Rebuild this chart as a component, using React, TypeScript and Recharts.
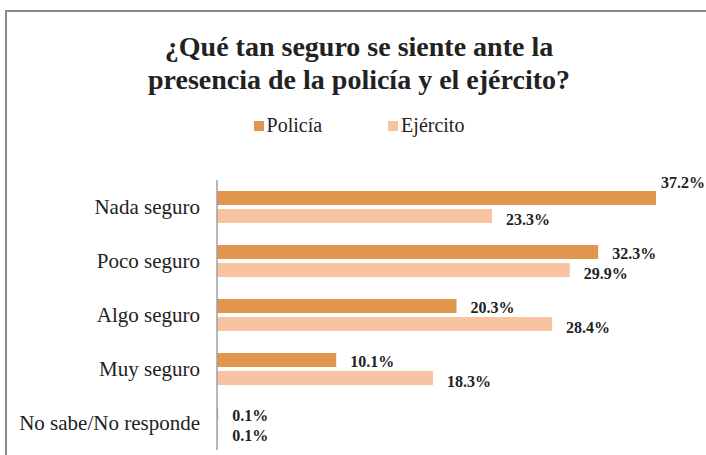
import { BarChart, Bar, XAxis, YAxis, LabelList } from "recharts";

const categories = ["Nada seguro", "Poco seguro", "Algo seguro", "Muy seguro", "No sabe/No responde"];
const policia = [37.2, 32.3, 20.3, 10.1, 0.1];
const ejercito = [23.3, 29.9, 28.4, 18.3, 0.1];

const COLOR_POLICIA = "#E2954D";
const COLOR_EJERCITO = "#F8C3A0";
const SERIF = '"Liberation Serif", "Times New Roman", serif';
const W = 706;
const H = 455;

const data = categories.map((name, i) => ({
  name,
  policia: policia[i],
  ejercito: ejercito[i],
}));

const legendItems = [
  { label: "Policía", color: COLOR_POLICIA },
  { label: "Ejército", color: COLOR_EJERCITO },
];

function makeLabel(shift: number) {
  return (props: any) => {
    const { x, y, width, height, value } = props;
    const text = `${Number(value).toFixed(1)}%`;
    let lx = x + width + 14;
    let ly = y + height / 2 + shift;
    // push the label up when it would run off the right edge
    if (lx + 46 > W) {
      lx = x + width + 5;
      ly = y - 3;
    }
    return (
      <text x={lx} y={ly} fontFamily={SERIF} fontWeight="bold" fontSize={16} fill="#222">
        {text}
      </text>
    );
  };
}

export default function App() {
  return (
    <div style={{ position: "fixed", left: 0, top: 0, width: W, height: H, background: "#fff", overflow: "hidden" }}>
      <div
        style={{
          position: "absolute",
          left: 5,
          top: 10,
          width: 760,
          height: 500,
          borderLeft: "2px solid #8a8a8a",
          borderTop: "2px solid #8a8a8a",
        }}
      />
      <div
        style={{
          position: "absolute",
          left: 0,
          top: 30,
          width: 718,
          textAlign: "center",
          fontFamily: SERIF,
          fontWeight: "bold",
          fontSize: 28,
          lineHeight: "33px",
          color: "#222",
        }}
      >
        ¿Qué tan seguro se siente ante la
        <br />
        presencia de la policía y el ejército?
      </div>
      <div
        style={{
          position: "absolute",
          top: 114,
          left: 0,
          width: 718,
          display: "flex",
          justifyContent: "center",
          gap: 66,
          fontFamily: SERIF,
          fontSize: 20,
          color: "#222",
        }}
      >
        {legendItems.map((it) => (
          <div key={it.label} style={{ display: "flex", alignItems: "center" }}>
            <span style={{ width: 10, height: 10, background: it.color, display: "inline-block", marginRight: 3 }} />
            {it.label}
          </div>
        ))}
      </div>
      <div style={{ position: "absolute", left: 0, top: 0 }}>
        <BarChart
          width={W}
          height={H}
          data={data}
          layout="vertical"
          margin={{ top: 180, right: 17, bottom: 5, left: 7 }}
          barSize={14}
          barGap={4}
          barCategoryGap={11}
        >
          <XAxis type="number" domain={[0, 40]} hide />
          <YAxis
            type="category"
            dataKey="name"
            width={210}
            tickLine={false}
            tickSize={0}
            tickMargin={17}
            axisLine={{ stroke: "#a0a0a0", strokeWidth: 1.5 }}
            tick={{ fontFamily: SERIF, fontSize: 21, fill: "#222" }}
          />
          <Bar dataKey="policia" name="Policía" fill={COLOR_POLICIA} isAnimationActive={false}>
            <LabelList dataKey="policia" content={makeLabel(7)} />
          </Bar>
          <Bar dataKey="ejercito" name="Ejército" fill={COLOR_EJERCITO} isAnimationActive={false}>
            <LabelList dataKey="ejercito" content={makeLabel(9)} />
          </Bar>
        </BarChart>
      </div>
    </div>
  );
}
